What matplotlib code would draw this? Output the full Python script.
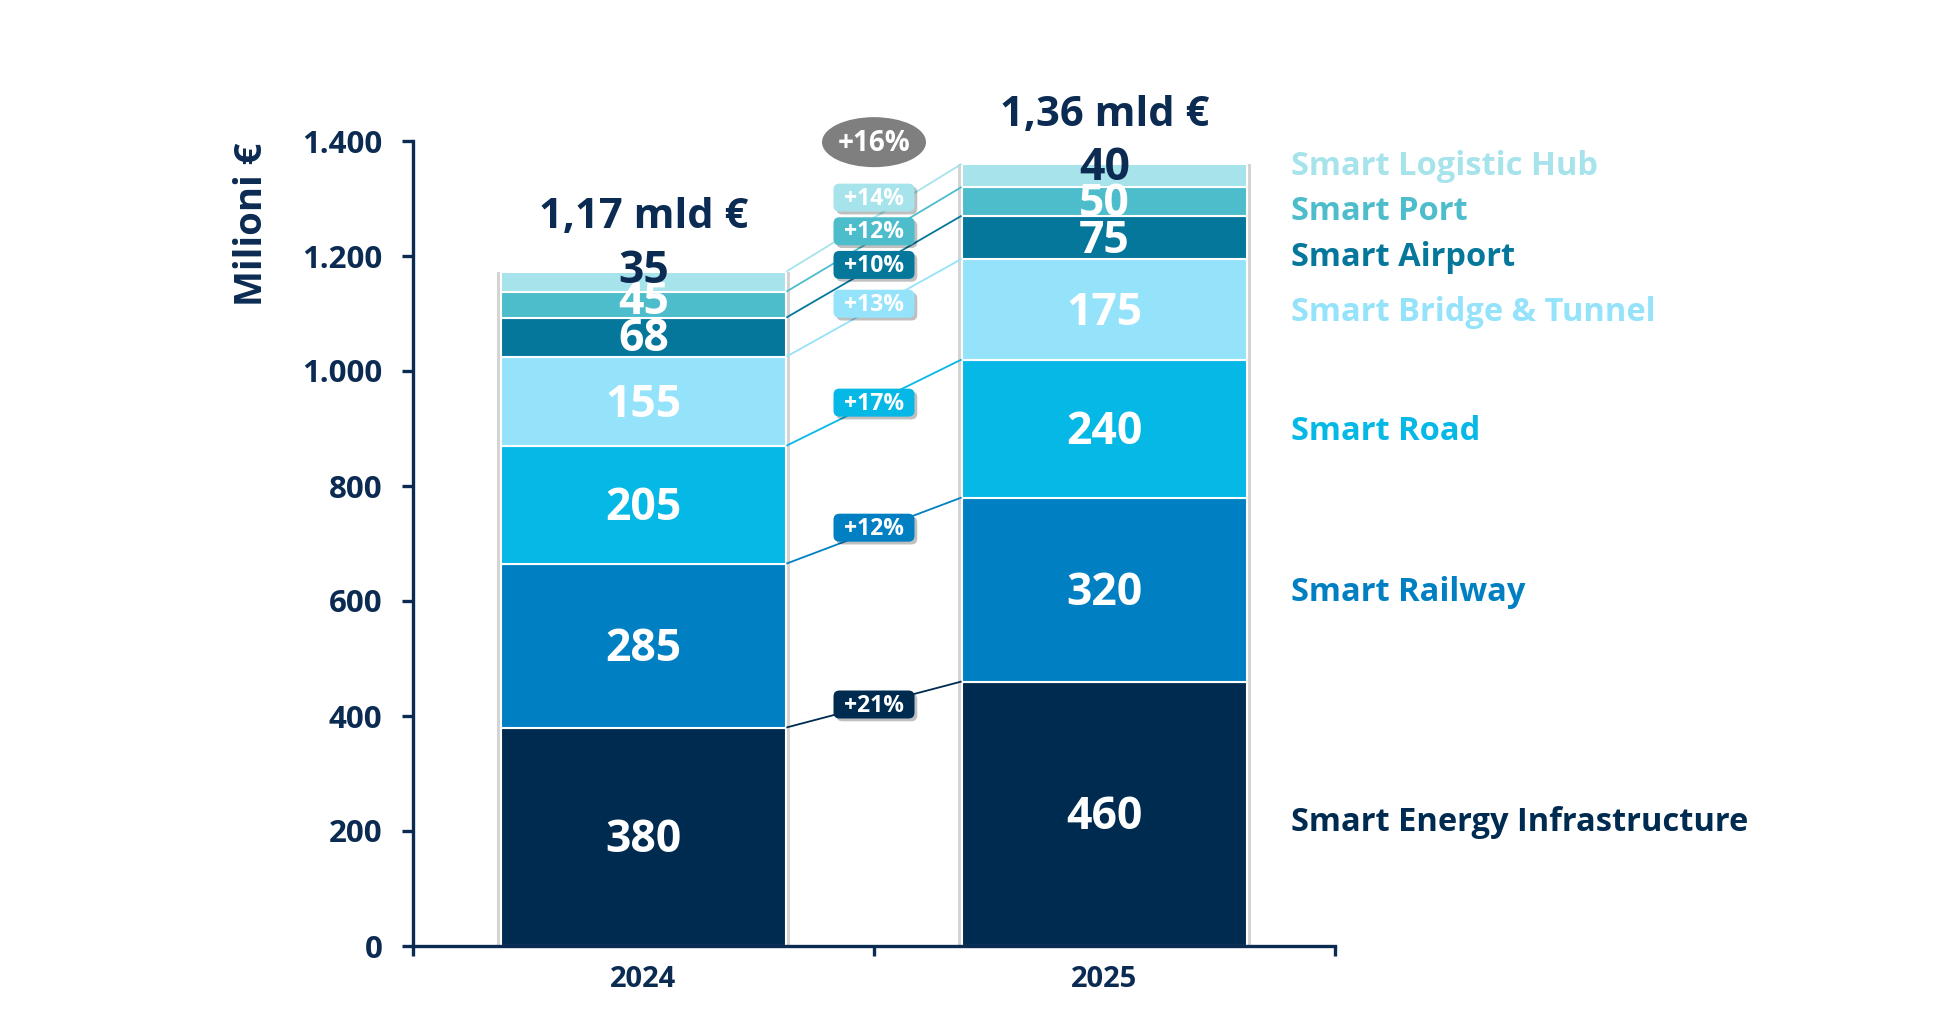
import matplotlib
matplotlib.use("Agg")
import matplotlib.pyplot as plt
from matplotlib.patches import FancyBboxPatch, Ellipse
from matplotlib.transforms import Affine2D, ScaledTranslation
from matplotlib.ticker import FuncFormatter, FixedLocator
import matplotlib.patheffects as pe

# ---------------- data ----------------
categories = ["2024", "2025"]
segments = ["Smart Energy Infrastructure", "Smart Railway", "Smart Road",
            "Smart Bridge & Tunnel", "Smart Airport", "Smart Port",
            "Smart Logistic Hub"]
values_2024 = [380, 285, 205, 155, 68, 45, 35]
values_2025 = [460, 320, 240, 175, 75, 50, 40]
growth_labels = ["+21%", "+12%", "+17%", "+13%", "+10%", "+12%", "+14%"]
total_labels = ["1,17 mld €", "1,36 mld €"]
total_growth = "+16%"

# ---------------- style ----------------
colors = ["#002B51", "#0080C3", "#05B8E5", "#94E3FA", "#04779B", "#4DBDCC", "#A6E3EB"]
value_text_colors = ["white"] * 6 + ["#0B2B52"]
navy = "#0B2B52"
FONT = ["Open Sans", "DejaVu Sans"]
plt.rcParams["font.family"] = FONT
plt.rcParams["font.weight"] = "bold"

bar_width = 0.62
val_lift = [[-7, -7, -7, -7, -5, 3, 18], [-7, -7, -7, -7, -7, -5, 12]]
growth_lift = [0, 5, 0, 7, 3, 14, 35]
legend_lift = [-16, -6, -6, -6, -35, -18, 15]
total_lift = [94, 84]

fig = plt.figure(figsize=(19.44, 10.14), dpi=100)
ax = fig.add_axes([413 / 1944, 68 / 1014, 922 / 1944, 805 / 1014])
ax.set_xlim(-0.5, 1.5)
ax.set_ylim(0, 1400)

series = [values_2024, values_2025]
xs = list(range(len(categories)))

# shadow behind bars
for i, vals in enumerate(series):
    ax.bar(xs[i], sum(vals), width=bar_width + 0.014, color="#d4d4d4",
           edgecolor="none", zorder=1)

tops = []
for i, vals in enumerate(series):
    bottom = 0
    t = []
    for j, v in enumerate(vals):
        ax.bar(xs[i], v, bottom=bottom, width=bar_width, color=colors[j],
               edgecolor="white", linewidth=1.5, zorder=2)
        ax.text(xs[i], bottom + v / 2 + val_lift[i][j], str(v),
                ha="center", va="center", fontsize=32, fontweight="bold",
                color=value_text_colors[j], zorder=5)
        bottom += v
        t.append(bottom)
    tops.append(t)
    ax.text(xs[i], bottom + total_lift[i], total_labels[i], ha="center",
            va="center", fontsize=30, fontweight="bold", color=navy, zorder=5)

# connectors and growth boxes
x0 = xs[0] + bar_width / 2
x1 = xs[1] - bar_width / 2
xm = (xs[0] + xs[1]) / 2


def px_transform(x, y):
    return ScaledTranslation(x, y, ax.transData)


for j in range(len(segments)):
    ax.plot([x0, x1], [tops[0][j], tops[1][j]], color=colors[j], lw=1.3,
            zorder=3, solid_capstyle="butt")
    ym = (tops[0][j] + tops[1][j]) / 2 + growth_lift[j]
    w, h = 81, 28
    box = FancyBboxPatch((-w / 2, -h / 2), w, h,
                         boxstyle="round,pad=0,rounding_size=6",
                         facecolor=colors[j], edgecolor="none",
                         transform=Affine2D() + px_transform(xm, ym), zorder=6)
    box.set_path_effects([pe.SimplePatchShadow(offset=(2, -2), shadow_rgbFace="k",
                                               alpha=0.25), pe.Normal()])
    box.set_clip_on(False)
    ax.add_patch(box)
    ax.text(xm, ym - 2, growth_labels[j], ha="center", va="center", fontsize=16.5,
            fontweight="bold", color="white", zorder=7)

# total growth ellipse
ell_y = 1398
ell = Ellipse((0, 0), 104, 50, facecolor="#7F7F7F", edgecolor="none",
              transform=Affine2D() + px_transform(xm, ell_y), zorder=6)
ell.set_clip_on(False)
ax.add_patch(ell)
ax.text(xm, ell_y - 3, total_growth, ha="center", va="center", fontsize=20,
        fontweight="bold", color="white", zorder=7)

# right-hand labels
for j, name in enumerate(segments):
    yc = tops[1][j] - series[1][j] / 2 + legend_lift[j]
    ax.text(1.405, yc, name, ha="left", va="center", fontsize=23.5,
            fontweight="bold", color=colors[j], zorder=5)

# axes styling
for s in ["top", "right"]:
    ax.spines[s].set_visible(False)
for s in ["left", "bottom"]:
    ax.spines[s].set_color(navy)
    ax.spines[s].set_linewidth(2.4)

ax.yaxis.set_major_locator(FixedLocator([0, 200, 400, 600, 800, 1000, 1200, 1400]))
ax.yaxis.set_major_formatter(FuncFormatter(lambda v, p: f"{v:,.0f}".replace(",", ".")))
ax.tick_params(axis="y", length=8, width=2.4, color=navy, labelsize=22.5,
               labelcolor=navy, pad=14)
for lab in ax.get_yticklabels():
    lab.set_fontweight("bold")

ax.set_xticks([-0.5, 0.5, 1.5])
ax.set_xticklabels([])
ax.tick_params(axis="x", which="major", length=7, width=2.4, color=navy, direction="out")
ax.set_xticks(xs, minor=True)
ax.set_xticklabels(categories, minor=True, fontsize=21, fontweight="bold", color=navy)
ax.tick_params(axis="x", which="minor", length=0, pad=14)

fig.text(252 / 1944, 1 - 224 / 1014, "Milioni €", rotation=90, ha="center",
         va="center", fontsize=27.5, fontweight="bold", color=navy)

fig.savefig("out.png", dpi=100, facecolor="white")
